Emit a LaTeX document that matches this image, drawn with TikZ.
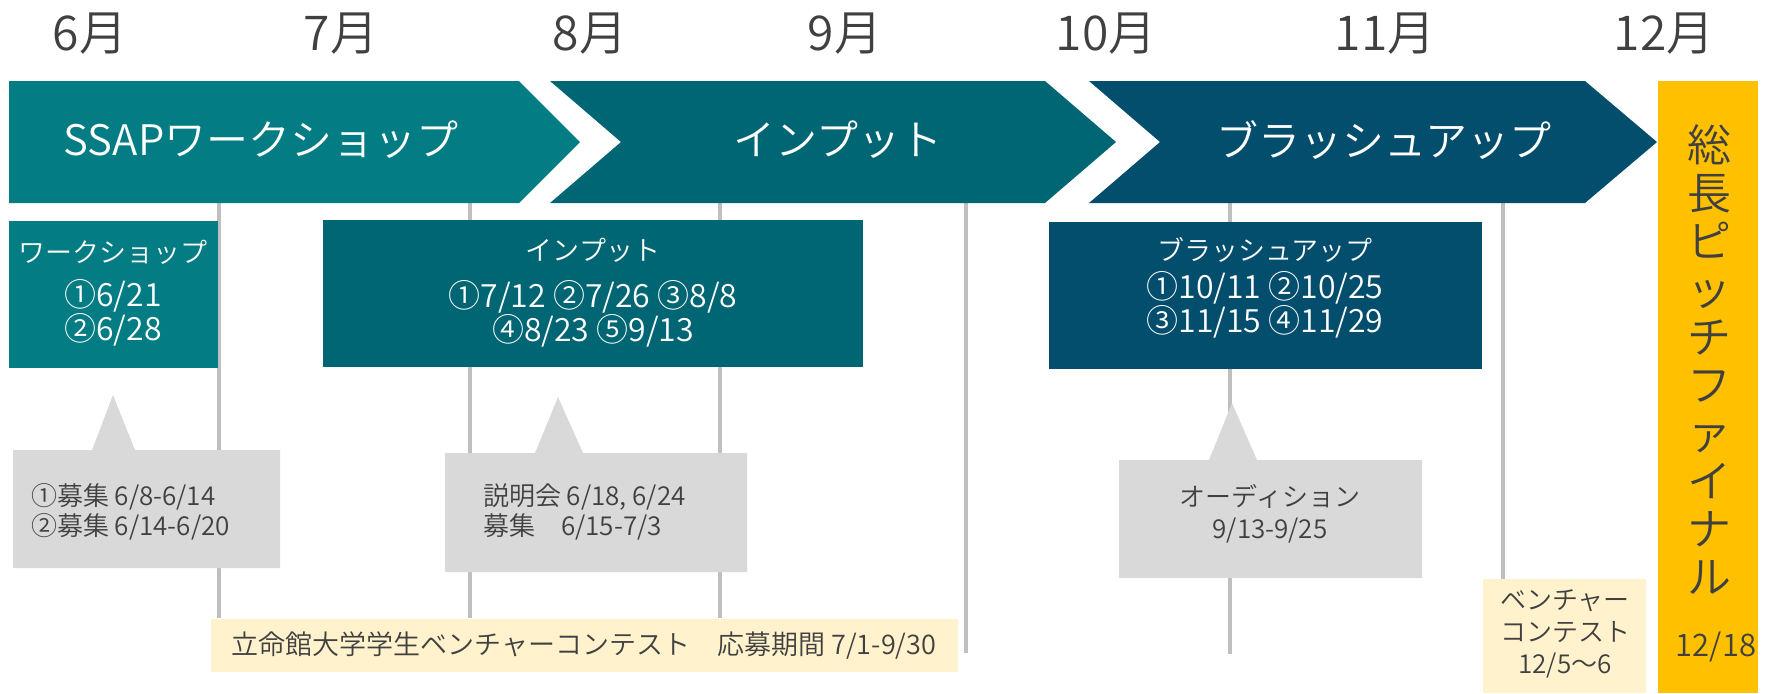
\documentclass[tikz,border=0pt]{standalone}
\usepackage{fontspec}
\setmainfont{Noto Sans CJK JP}[UprightFont={* DemiLight}]
\definecolor{tealA}{HTML}{037C83}
\definecolor{tealB}{HTML}{006673}
\definecolor{navyC}{HTML}{034E6C}
\definecolor{gold}{HTML}{FFC000}
\definecolor{cream}{HTML}{FFF2CC}
\definecolor{callgray}{HTML}{D9D9D9}
\definecolor{tickgray}{HTML}{BFBFBF}
\definecolor{txtgray}{HTML}{404040}

\begin{document}
\begin{tikzpicture}[x=0.5pt, y=-0.5pt,
    month/.style={text=txtgray, font=\fontsize{24}{24}\selectfont},
    phase/.style={text=white, font=\fontsize{21}{21}\selectfont},
    boxtitle/.style={text=white, font=\fontsize{13.5}{16}\selectfont},
    boxdate/.style={text=white, align=center, font=\fontsize{16}{17}\selectfont},
    calltext/.style={text=txtgray, font=\fontsize{13}{15}\selectfont},
    tickline/.style={tickgray, line width=1.75pt}]
  \useasboundingbox (0,0) rectangle (1772,693);

  % ticks behind everything
  \foreach \x/\y in {219/618, 470/618, 720/618, 966/653, 1230/654, 1503/579}
    \draw[tickline] (\x,203) -- (\x,\y);

  % months
  \node[month] (m6) at (90,34) {6月};
  \node[month] (m7) at (341,34) {7月};
  \node[month] (m8) at (590,34) {8月};
  \node[month] (m9) at (845,34) {9月};
  \node[month] (m10) at (1106,34) {10月};
  \node[month] (m11) at (1385,34) {11月};
  \node[month] (m12) at (1664,34) {12月};

  % phase arrows
  \fill[tealA] (9,81) -- (519,81) -- (580,142) -- (519,203) -- (9,203) -- cycle;
  \fill[tealB] (550,81) -- (1045,81) -- (1116,142) -- (1045,203) -- (550,203) -- (621,142) -- cycle;
  \fill[navyC] (1089,81) -- (1585,81) -- (1657,142) -- (1585,203) -- (1089,203) -- (1160,142) -- cycle;
  \node[phase] (ssap) at (261,140) {SSAPワークショップ};
  \node[phase] (input) at (838,140) {インプット};
  \node[phase] (brush) at (1384,140) {ブラッシュアップ};

  % final
  \fill[gold] (1658,81) rectangle (1758,693);
  \node[text=txtgray, align=center, font=\fontsize{22}{24}\selectfont] (final) at (1709,359)
    {総\\長\\ピ\\ッ\\チ\\フ\\ァ\\イ\\ナ\\ル};
  \node[text=txtgray, font=\fontsize{15.5}{15.5}\selectfont] (finaldate) at (1716,647) {12/18};

  % session boxes
  \fill[tealA] (9,221) rectangle (218,368);
  \node[boxtitle] (wstitle) at (113,252) {ワークショップ};
  \node[boxdate] (wsdate) at (113,313) {①6/21\\②6/28};

  \fill[tealB] (323,220) rectangle (863,367);
  \node[boxtitle] (intitle) at (593,250) {インプット};
  \node[boxdate] (indate) at (593,314) {①7/12 ②7/26 ③8/8\\④8/23 ⑤9/13};

  \fill[navyC] (1049,222) rectangle (1482,369);
  \node[boxtitle] (brtitle) at (1265,250) {ブラッシュアップ};
  \node[boxdate] (brdate) at (1265,305) {①10/11 ②10/25\\③11/15 ④11/29};

  % callouts
  \fill[callgray] (13,450) -- (92,450) -- (113,395) -- (135,450) -- (280,450) -- (280,568) -- (13,568) -- cycle;
  \node[calltext, anchor=west, align=left] (wsrec) at (24,512) {①募集 6/8-6/14\\②募集 6/14-6/20};

  \fill[callgray] (445,453) -- (535,453) -- (558,397) -- (583,453) -- (747,453) -- (747,572) -- (445,572) -- cycle;
  \node[calltext, anchor=west, align=left] (inrec) at (476,512) {説明会 6/18, 6/24\\募集　6/15-7/3};

  \fill[callgray] (1119,460) -- (1209,460) -- (1232,403) -- (1257,460) -- (1422,460) -- (1422,578) -- (1119,578) -- cycle;
  \node[calltext, align=center, font=\fontsize{13}{16}\selectfont] (audit) at (1270,514) {オーディション\\9/13-9/25};

  % contest
  \fill[cream] (211,619) rectangle (958,672);
  \node[calltext, font=\fontsize{13.5}{16}\selectfont] (contest) at (584,646) {立命館大学学生ベンチャーコンテスト　応募期間 7/1-9/30};
  \fill[cream] (1483,579) rectangle (1646,693);
  \node[calltext, align=center, font=\fontsize{13}{16}\selectfont] (venture) at (1565,634) {ベンチャー\\コンテスト\\12/5〜6};
\end{tikzpicture}
\end{document}
